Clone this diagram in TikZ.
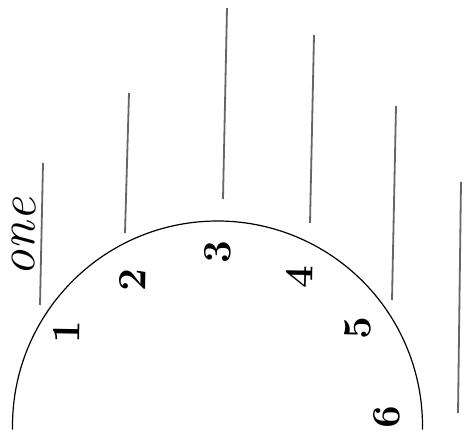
\documentclass[tikz,border=0pt]{standalone}
\usepackage{fontspec}
\begin{document}
\begin{tikzpicture}[x=0.5pt,y=0.5pt,
  blank/.style={draw=black!60, line width=0.9pt},
  num/.style={rotate=89, inner sep=0pt, font=\fontsize{20}{20}\selectfont\bfseries},
  word/.style={rotate=89, inner sep=0pt, font=\fontsize{26}{26}\selectfont\itshape}]
\useasboundingbox (0,0) rectangle (465,434);
% answer lines
\coordinate (a1) at (43,271); \coordinate (b1) at (40,129);
\coordinate (a2) at (129,341); \coordinate (b2) at (125,201);
\coordinate (a3) at (227,426); \coordinate (b3) at (223,235);
\coordinate (a4) at (314,399); \coordinate (b4) at (310,211);
\coordinate (a5) at (396,328); \coordinate (b5) at (392,134);
\coordinate (a6) at (461,252); \coordinate (b6) at (458,21);
\foreach \i in {1,...,6} \draw[blank] (a\i) -- (b\i);
% arc
\coordinate (c) at (217.5,8);
\draw[line width=0.6pt] ([shift={(181:205)}]c) arc[start angle=181, end angle=-1, radius=205];
% labels
\node[word] (one) at (24,197) {one};
\node[num] (n1) at (67,102) {1};
\node[num] (n2) at (133,154) {2};
\node[num] (n3) at (218,182) {3};
\node[num] (n4) at (300,157) {4};
\node[num] (n5) at (358,106) {5};
\node[num] (n6) at (387,17) {6};
\end{tikzpicture}
\end{document}
